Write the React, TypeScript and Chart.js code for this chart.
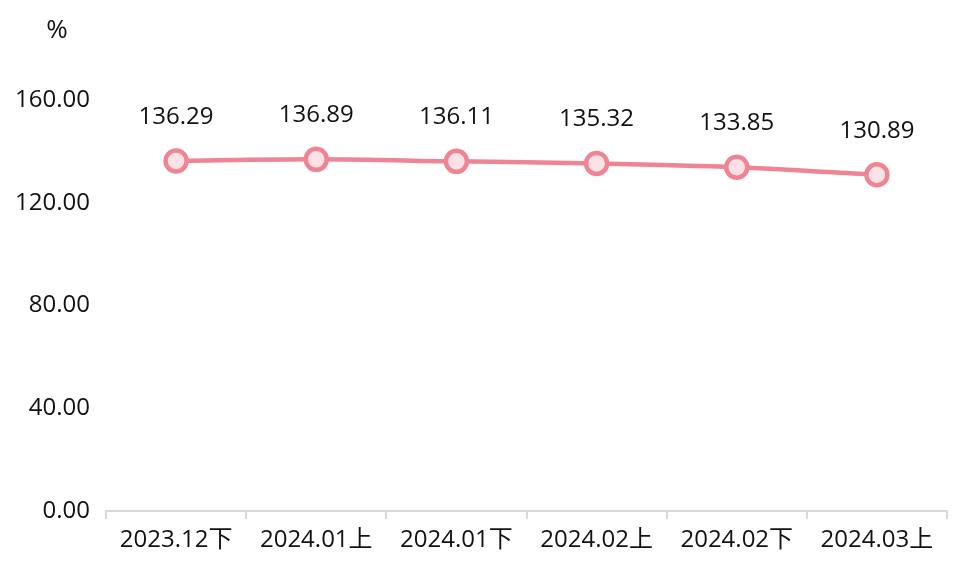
import React, { useEffect, useRef } from "react";
import { Chart, registerables } from "chart.js";

Chart.register(...registerables);

const categories = ["2023.12下", "2024.01上", "2024.01下", "2024.02上", "2024.02下", "2024.03上"];
const values = [136.29, 136.89, 136.11, 135.32, 133.85, 130.89];
const yTicks = [0, 40, 80, 120, 160];
const unitLabel = "%";

const FONT = '"Open Sans", "Noto Sans CJK SC", sans-serif';
const FONT_SIZE = 24;

export default function App() {
  const ref = useRef<HTMLCanvasElement | null>(null);
  useEffect(() => {
    document.body.style.margin = "0";
    const canvas = ref.current!;
    const labelPlugin = {
      id: "labels",
      afterDatasetsDraw(chart: any) {
        const ctx = chart.ctx;
        ctx.save();
        ctx.font = `${FONT_SIZE}px ${FONT}`;
        ctx.fillStyle = "#111111";
        ctx.textAlign = "center";
        ctx.textBaseline = "middle";
        const meta = chart.getDatasetMeta(0);
        meta.data.forEach((pt: any, i: number) => {
          ctx.fillText(values[i].toFixed(2), pt.x, pt.y - 44);
        });
        ctx.font = `26px ${FONT}`;
        ctx.fillText(unitLabel, 57, 31);
        ctx.restore();
      },
    };
    const chart = new Chart(canvas, {
      type: "line",
      data: {
        labels: categories,
        datasets: [
          {
            data: values,
            borderColor: "#EF8593",
            borderWidth: 4.5,
            backgroundColor: "#FCE2E6",
            pointBackgroundColor: "#FCE2E6",
            pointBorderColor: "#EF8593",
            pointBorderWidth: 4.5,
            pointRadius: 10.5,
            tension: 0.3,
            fill: false,
          },
        ],
      },
      options: {
        responsive: false,
        animation: false,
        events: [],
        layout: { padding: { top: 100, right: 15, left: 0, bottom: 0 } },
        plugins: { legend: { display: false }, tooltip: { enabled: false } },
        scales: {
          x: {
            type: "category",
            offset: true,
            grid: {
              offset: true,
              drawOnChartArea: false,
              drawTicks: true,
              tickLength: 8,
              color: "#D9D9D9",
              lineWidth: 2,
            },
            border: { color: "#D9D9D9", width: 2 },
            ticks: {
              color: "#111111",
              font: { family: FONT, size: FONT_SIZE },
              padding: 7,
              maxRotation: 0,
              autoSkip: false,
            },
            afterFit: (scale: any) => {
              scale.height = 59;
            },
          },
          y: {
            min: 0,
            max: 160,
            grid: { display: false, drawTicks: false },
            border: { display: false },
            afterBuildTicks: (scale: any) => {
              scale.ticks = yTicks.map((v) => ({ value: v }));
            },
            ticks: {
              color: "#111111",
              font: { family: FONT, size: FONT_SIZE },
              padding: 16,
              callback: (v: any) => Number(v).toFixed(2),
            },
            afterFit: (scale: any) => {
              scale.width = 106;
            },
          },
        },
      },
      plugins: [labelPlugin],
    });
    return () => chart.destroy();
  }, []);
  return <canvas ref={ref} width={962} height={570} style={{ display: "block" }} />;
}
